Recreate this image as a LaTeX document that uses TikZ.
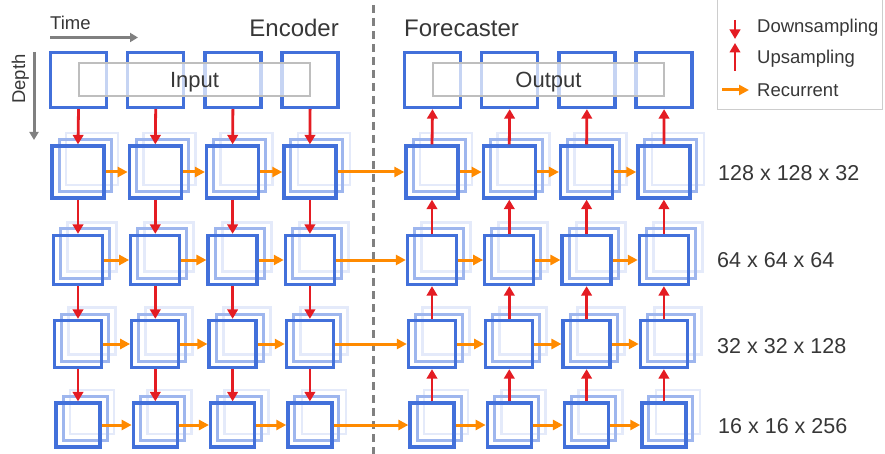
\documentclass[tikz,border=0pt]{standalone}
\usepackage{fontspec}
\setmainfont{Liberation Sans}
\usetikzlibrary{arrows.meta}
\definecolor{boxblue}{RGB}{66,112,218}
\definecolor{midblue}{RGB}{158,182,238}
\definecolor{backblue}{RGB}{228,234,250}
\definecolor{arrred}{RGB}{228,28,35}
\definecolor{arrorange}{RGB}{255,138,0}
\definecolor{axisgray}{RGB}{128,128,128}
\definecolor{txtgray}{RGB}{55,55,55}
\definecolor{rectgray}{RGB}{190,190,190}
\definecolor{legendgray}{RGB}{205,205,205}
\begin{document}
\begin{tikzpicture}[x=1pt,y=-1pt,
  frontbox/.style={rectangle,draw=boxblue,line width=3.3pt,minimum width=#1,minimum height=#1,inner sep=0pt},
  midbox/.style={rectangle,draw=midblue,line width=3pt,minimum width=#1,minimum height=#1,inner sep=0pt},
  backbox/.style={rectangle,draw=backblue,line width=2.8pt,minimum width=#1,minimum height=#1,inner sep=0pt},
  topbox/.style={rectangle,draw=boxblue,line width=3.3pt,minimum width=56pt,minimum height=55pt,inner sep=0pt},
  labelrect/.style={rectangle,draw=rectgray,line width=1.1pt,fill=white,fill opacity=0.7,text opacity=1,
    minimum width=231pt,minimum height=33pt,inner sep=0pt,text depth=0pt,text=txtgray,font=\fontsize{22}{26}\selectfont},
  redarrow/.style={draw=arrred,line width=2.8pt,-{Triangle[length=9.5pt,width=10.5pt]}},
  orangearrow/.style={draw=arrorange,line width=3pt,-{Triangle[length=10pt,width=10pt]}},
  axisarrow/.style={draw=axisgray,line width=3pt,-{Triangle[length=8pt,width=9pt]}},
  bigtext/.style={text=txtgray,inner sep=0pt,font=\fontsize{24}{28}\selectfont},
  medtext/.style={text=txtgray,inner sep=0pt,font=\fontsize{21.5}{26}\selectfont},
  smalltext/.style={text=txtgray,inner sep=0pt,font=\fontsize{18.5}{22}\selectfont}
]
\useasboundingbox (0,0) rectangle (885,454);

% dashed separator
\coordinate (d0) at (373,5);
\coordinate (d1) at (373,454);
\draw[axisgray,line width=3pt,dash pattern=on 8pt off 5pt] (d0) -- (d1);

% legend
\node[rectangle,draw=legendgray,line width=1pt,minimum width=165pt,minimum height=113pt,inner sep=0pt] (legend) at (799.5,53.5) {};
\coordinate (ld0) at (735,20);
\coordinate (ld1) at (735,39);
\coordinate (lu0) at (735,71);
\coordinate (lu1) at (735,43);
\coordinate (lr0) at (722,90);
\coordinate (lr1) at (749,90);
\draw[redarrow] (ld0) -- (ld1);
\draw[redarrow] (lu0) -- (lu1);
\draw[orangearrow] (lr0) -- (lr1);
\node[smalltext,anchor=base west] (tdown) at (757,33) {Downsampling};
\node[smalltext,anchor=base west] (tup) at (757,64) {Upsampling};
\node[smalltext,anchor=base west] (trec) at (757,97) {Recurrent};

% axes
\node[smalltext,anchor=base west] (time) at (50,30) {Time};
\coordinate (ta0) at (50,37.5);
\coordinate (ta1) at (138,37.5);
\draw[axisarrow] (ta0) -- (ta1);
\node[smalltext,anchor=base,rotate=90] (depth) at (25,79) {Depth};
\coordinate (da0) at (34,52);
\coordinate (da1) at (34,140);
\draw[axisarrow] (da0) -- (da1);

\node[bigtext,anchor=base east] (enc) at (339,37) {Encoder};
\node[bigtext,anchor=base west] (fore) at (404,37) {Forecaster};

% top boxes
\foreach \c in {1,...,4}{
  \pgfmathsetmacro\ex{78.5+77.2*(\c-1)}
  \pgfmathsetmacro\fx{432.5+77.2*(\c-1)}
  \node[topbox] (i\c) at (\ex,80) {};
  \node[topbox] (o\c) at (\fx,80) {};
}
\node[labelrect] (input) at (194.5,79.5) {Input};
\node[labelrect] (output) at (548.5,79.5) {Output};

% recurrent layers
\foreach \r/\y/\s in {1/172/52,2/260/49,3/344/47,4/425/44}{
  \foreach \c in {1,...,4}{
    \pgfmathsetmacro\ex{78+77.3*(\c-1)}
    \pgfmathsetmacro\fx{432+77.3*(\c-1)}
    \node[backbox=\s] (eb\r\c) at (\ex+14,\y-13) {};
    \node[midbox=\s] (em\r\c) at (\ex+7,\y-6.5) {};
    \node[frontbox=\s] (e\r\c) at (\ex,\y) {};
    \node[backbox=\s] (fb\r\c) at (\fx+14,\y-13) {};
    \node[midbox=\s] (fm\r\c) at (\fx+7,\y-6.5) {};
    \node[frontbox=\s] (f\r\c) at (\fx,\y) {};
  }
}

% row labels
\node[medtext,anchor=base west] (l1) at (718,181) {128 x 128 x 32};
\node[medtext,anchor=base west] (l2) at (717,267) {64 x 64 x 64};
\node[medtext,anchor=base west] (l3) at (717,353) {32 x 32 x 128};
\node[medtext,anchor=base west] (l4) at (718,433) {16 x 16 x 256};

% downsampling / upsampling arrows
\foreach \c in {1,...,4}{
  \draw[redarrow] (i\c.south) -- (e1\c.north);
  \draw[redarrow] (e1\c.south) -- (e2\c.north);
  \draw[redarrow] (e2\c.south) -- (e3\c.north);
  \draw[redarrow] (e3\c.south) -- (e4\c.north);
  \draw[redarrow] (f1\c.north) -- (o\c.south);
  \draw[redarrow] (f2\c.north) -- (f1\c.south);
  \draw[redarrow] (f3\c.north) -- (f2\c.south);
  \draw[redarrow] (f4\c.north) -- (f3\c.south);
}

% recurrent arrows
\foreach \r in {1,...,4}{
  \draw[orangearrow] (e\r1.east) -- (e\r2.west);
  \draw[orangearrow] (e\r2.east) -- (e\r3.west);
  \draw[orangearrow] (e\r3.east) -- (e\r4.west);
  \draw[orangearrow] (e\r4.east) -- (f\r1.west);
  \draw[orangearrow] (f\r1.east) -- (f\r2.west);
  \draw[orangearrow] (f\r2.east) -- (f\r3.west);
  \draw[orangearrow] (f\r3.east) -- (f\r4.west);
}
\end{tikzpicture}
\end{document}
